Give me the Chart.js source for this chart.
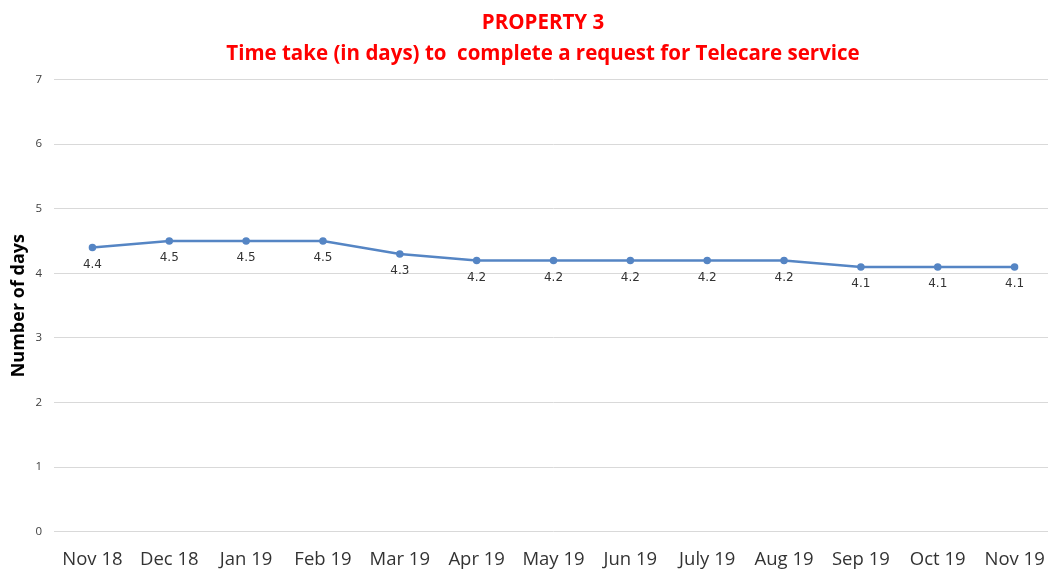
<!DOCTYPE html>
<html>
<head>
<meta charset="utf-8">
<script src="https://cdn.jsdelivr.net/npm/chart.js@4.4.0/dist/chart.umd.min.js"></script>
<style>
  html, body { margin: 0; padding: 0; background: #fff; overflow: hidden; }
  #wrap { width: 1058px; height: 580px; }
</style>
</head>
<body>
<div id="wrap"><canvas id="chart"></canvas></div>
<script>
const months = ['Nov 18', 'Dec 18', 'Jan 19', 'Feb 19', 'Mar 19', 'Apr 19', 'May 19',
  'Jun 19', 'July 19', 'Aug 19', 'Sep 19', 'Oct 19', 'Nov 19'];
const days = [4.4, 4.5, 4.5, 4.5, 4.3, 4.2, 4.2, 4.2, 4.2, 4.2, 4.1, 4.1, 4.1];
const titleLines = ['PROPERTY 3', 'Time take (in days) to  complete a request for Telecare service'];

// labels under each point
const pointLabels = {
  id: 'pointLabels',
  afterLayout(chart) {
    // title sits a bit right of the canvas centre in the original
    if (chart.titleBlock) {
      chart.titleBlock.left += 14;
      chart.titleBlock.right += 14;
    }
  },
  afterDatasetsDraw(chart) {
    const ctx = chart.ctx;
    const meta = chart.getDatasetMeta(0);
    ctx.save();
    ctx.font = '12px "DejaVu Sans", sans-serif';
    ctx.fillStyle = '#333333';
    ctx.textAlign = 'center';
    ctx.textBaseline = 'middle';
    meta.data.forEach((pt, i) => {
      ctx.fillText(days[i].toFixed(1), pt.x, pt.y + 17);
    });
    ctx.restore();
  }
};

new Chart(document.getElementById('chart'), {
  type: 'line',
  data: {
    labels: months,
    datasets: [{
      data: days,
      borderColor: '#5585c4',
      backgroundColor: '#5585c4',
      borderWidth: 2.5,
      pointRadius: 2.5,
      pointHoverRadius: 2.5,
      tension: 0
    }]
  },
  plugins: [pointLabels],
  options: {
    responsive: true,
    maintainAspectRatio: false,
    animation: false,
    layout: { padding: 0 },
    plugins: {
      legend: { display: false },
      tooltip: { enabled: false },
      title: {
        display: true,
        text: titleLines,
        color: '#ff0000',
        font: { family: '"Open Sans", sans-serif', size: 20.5, weight: 'bold', lineHeight: 1.5 },
        padding: { top: 8, bottom: 10 }
      }
    },
    scales: {
      x: {
        offset: true,
        grid: { display: false },
        border: { display: false },
        ticks: {
          color: '#333333',
          font: { family: '"Open Sans", sans-serif', size: 18.5 },
          padding: 9,
          maxRotation: 0,
          autoSkip: false
        }
      },
      y: {
        min: 0,
        max: 7,
        afterFit(scale) { scale.width = 54; },
        grid: { color: '#d9d9d9', drawTicks: false },
        border: { display: false },
        ticks: {
          stepSize: 1,
          color: '#404040',
          padding: 12,
          font: { family: '"Open Sans", sans-serif', size: 11.5 }
        },
        title: {
          display: true,
          text: 'Number of days',
          color: '#000',
          padding: { top: 8, bottom: 0 },
          font: { family: '"Open Sans", sans-serif', size: 18, weight: 'bold' }
        }
      }
    }
  }
});
</script>
</body>
</html>
